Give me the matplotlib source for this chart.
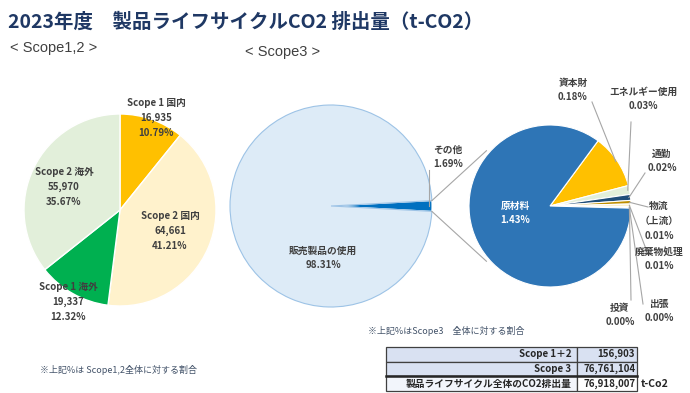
import matplotlib
matplotlib.use("Agg")
import matplotlib.pyplot as plt
import numpy as np

plt.rcParams['font.family'] = ['Noto Sans CJK JP', 'DejaVu Sans']

# Scope 1,2 (t-CO2)
s12_labels = ['Scope 1 国内', 'Scope 2 国内', 'Scope 1 海外', 'Scope 2 海外']
s12_values = [16935, 64661, 19337, 55970]
s12_pct = ['10.79%', '41.21%', '12.32%', '35.67%']
s12_colors = ['#FFC000', '#FFF2CC', '#00B050', '#E2EFDA']

# Scope 3 share of total (%)
s3_labels = ['その他', '販売製品の使用']
s3_values = [1.69, 98.31]

# breakdown of "その他" (% of Scope 3)
other_labels = ['資本財', 'エネルギー使用', '通勤', '物流\n（上流）', '廃棄物処理', '投資', '出張', '原材料']
other_values = [0.183, 0.030, 0.020, 0.012, 0.009, 0.002, 0.003, 1.432]
other_pct = ['0.18%', '0.03%', '0.02%', '0.01%', '0.01%', '0.00%', '0.00%', '1.43%']
other_colors = ['#FFC000', '#E2EFDA', '#1F4E79', '#BF8F00', '#FFF2CC', '#A5A5A5', '#70AD47', '#2E75B6']

table_rows = ['Scope 1＋2', 'Scope 3', '製品ライフサイクル全体のCO2排出量']
table_vals = ['156,903', '76,761,104', '76,918,007']

W, H = 690, 393
fig = plt.figure(figsize=(W / 100, H / 100), dpi=100)
fig.patch.set_facecolor('white')


def pie_axes(cx, cy, r):
    h = r * 1.25
    return fig.add_axes([(cx - h) / W, (H - cy - h) / H, 2 * h / W, 2 * h / H])


ax1 = pie_axes(120, 210, 96)
ax1.pie(s12_values, colors=s12_colors, startangle=90, counterclock=False,
        wedgeprops=dict(edgecolor='white', linewidth=1))

ax2 = pie_axes(331, 206, 101)
w2, _ = ax2.pie(s3_values, colors=['#0070C0', '#DDEBF7'], counterclock=True,
                startangle=-s3_values[0] / 100 * 180,
                wedgeprops=dict(linewidth=0.8))
w2[0].set_edgecolor('white')
w2[1].set_edgecolor('#9DC3E6')

ax3 = pie_axes(550, 206, 81)
w3, _ = ax3.pie(other_values, colors=other_colors, counterclock=False, startangle=53.6,
                wedgeprops=dict(edgecolor='white', linewidth=0.8))

ov = fig.add_axes([0, 0, 1, 1], zorder=5)
ov.set_xlim(0, W)
ov.set_ylim(H, 0)
ov.axis('off')
ov.patch.set_alpha(0)


def to_ov(ax, theta, r=1.0):
    p = ax.transData.transform((r * np.cos(np.radians(theta)), r * np.sin(np.radians(theta))))
    return ov.transData.inverted().transform(p)


lc = '#A6A6A6'
tc = '#404040'

ov.text(8, 22, '2023年度　製品ライフサイクルCO2 排出量（t-CO2）', fontsize=14, fontweight='bold',
        color='#1F3864', va='center')
ov.text(10, 48, '< Scope1,2 >', fontsize=10.5, color=tc, va='center', family='Liberation Sans')
ov.text(245, 52, '< Scope3 >', fontsize=10.5, color=tc, va='center', family='Liberation Sans')

# scope 1,2 labels
s12_pos = [(156, 118), (170, 231), (68, 302), (64, 187)]
for (x, y), lab, v, p in zip(s12_pos, s12_labels, s12_values, s12_pct):
    ov.text(x, y, f'{lab}\n{v:,}\n{p}', ha='center', va='center', fontsize=7,
            fontweight='bold', color=tc, linespacing=1.6)

# scope 3 labels
ov.text(448, 157, f'{s3_labels[0]}\n{s3_values[0]:.2f}%', ha='center', va='center', fontsize=7,
        fontweight='bold', color=tc, linespacing=1.6)
ov.text(323, 258, f'{s3_labels[1]}\n{s3_values[1]:.2f}%', ha='center', va='center', fontsize=7,
        fontweight='bold', color=tc, linespacing=1.6)
p = to_ov(ax2, 0, 0.97)
ov.plot([p[0], p[0]], [170, p[1]], color=lc, lw=0.8)

# connector lines between the pies
a = to_ov(ax2, w2[0].theta2)
b = to_ov(ax3, 139, 1.04)
ov.plot([a[0], b[0]], [a[1], b[1]], color=lc, lw=0.8)
a = to_ov(ax2, w2[0].theta1)
b = to_ov(ax3, -139, 1.04)
ov.plot([a[0], b[0]], [a[1], b[1]], color=lc, lw=0.8)

# breakdown labels
o_pos = [(573, 90), (643, 99), (662, 161), (659, 221), (659, 259), (620, 315), (659, 311)]
o_anchor = [(592, 102), (631, 122), (645, 173), (648, 207), (646, 249), (631, 300), (643, 304)]
for i, ((x, y), (ax_, ay_)) in enumerate(zip(o_pos, o_anchor)):
    ov.text(x, y, f'{other_labels[i]}\n{other_pct[i]}', ha='center', va='center', fontsize=7,
            fontweight='bold', color=tc, linespacing=1.6)
    th = (w3[i].theta1 + w3[i].theta2) / 2
    q = to_ov(ax3, th, 0.98)
    ov.plot([ax_, q[0]], [ay_, q[1]], color=lc, lw=0.8)
ov.text(515, 213, f'{other_labels[-1]}\n{other_pct[-1]}', ha='center', va='center', fontsize=7,
        fontweight='bold', color='white', linespacing=1.6)

# notes
nc = '#44546A'
ov.text(40, 370, '※上記%は Scope1,2全体に対する割合', fontsize=6.5, color=nc, va='center')
ov.text(368, 331, '※上記%はScope3　全体に対する割合', fontsize=6.5, color=nc, va='center')

# summary table
x0, x1, xm = 386, 637, 577
y0, y1 = 347, 391
tbl = ov.table(cellText=[[r, v] for r, v in zip(table_rows, table_vals)],
               colWidths=[(xm - x0) / W, (x1 - xm) / W],
               bbox=[x0 / W, (H - y1) / H, (x1 - x0) / W, (y1 - y0) / H],
               cellLoc='right')
tbl.auto_set_font_size(False)
for (r, c), cell in tbl.get_celld().items():
    cell.set_edgecolor('#404040')
    cell.set_linewidth(0.9)
    cell.set_text_props(fontsize=7, fontweight='bold', color='#262626')
    cell.PAD = 0.03
    if r < 2:
        cell.set_facecolor('#D9E1F2')
    else:
        cell.set_facecolor('#F2F5FB' if c == 0 else 'white')
ov.plot([x0, x1], [y0 + (y1 - y0) * 2 / 3, y0 + (y1 - y0) * 2 / 3], color='#262626', lw=1.8)
ov.text(641, 384, 't-Co2', fontsize=7.5, fontweight='bold', color='#262626', va='center')

fig.savefig('out.png', dpi=100)
